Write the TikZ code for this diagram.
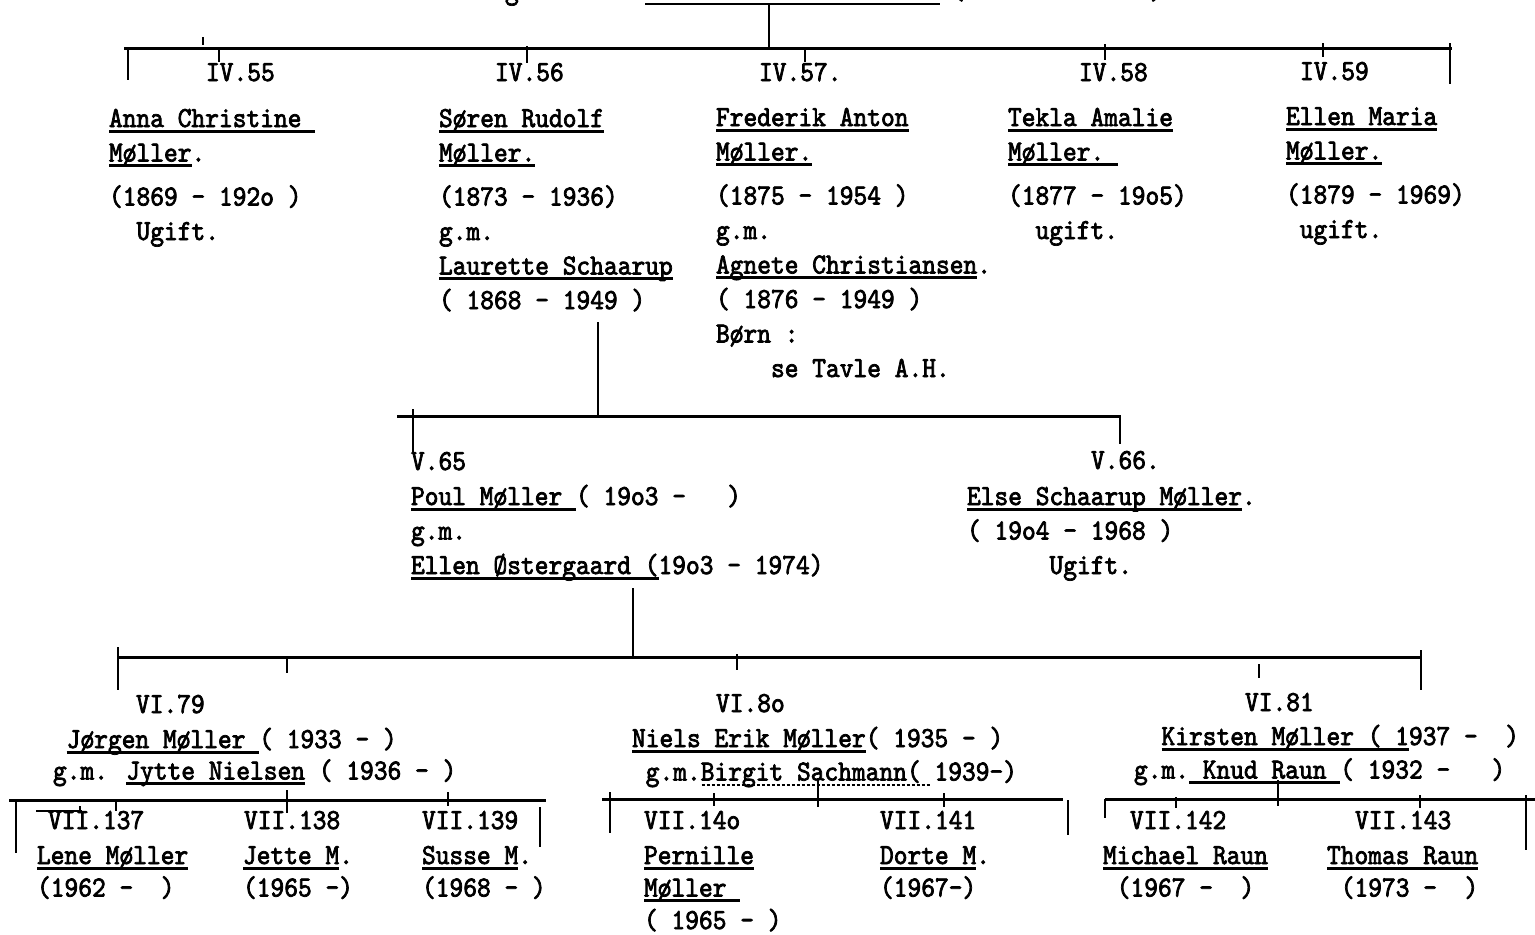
\documentclass[tikz,border=0pt]{standalone}
\usepackage{fontspec}
\newfontfamily\typ[Extension=.otf,FakeStretch=0.9,FakeBold=2.5]{lmmono10-regular}
\newcommand{\tyul}[1]{\setbox0\hbox{#1}\rlap{\rule[-2.8pt]{\wd0}{1.4pt}}\box0\relax}
\newcommand{\tydul}[1]{\setbox0\hbox{#1}\rlap{\raisebox{-2.6pt}{\hbox to \wd0{\leaders\hbox to 2.5pt{\hss\rule{1.6pt}{0.7pt}\hss}\hfill}}}\box0\relax}
\newcommand{\blok}[1]{\begin{tabular}[t]{@{}l@{}}#1\end{tabular}}

\begin{document}
\begin{tikzpicture}[x=0.5pt, y=-0.5pt,
    tekst/.style={anchor=base west, inner sep=0pt, outer sep=0pt,
      font={\typ\fontsize{14.55pt}{17.25pt}\selectfont}},
    bar/.style={line width=1.5pt},
    streg/.style={line width=1pt}]
    \useasboundingbox (0,0) rectangle (1535,934);
    \clip (0,0) rectangle (1535,934);
    % Forældre (afskaaret)
    \node[tekst] (gm3) at (505,-1) {g.m.};
    \node[tekst] (pa3) at (951,-1) {(};
    \node[tekst] (pb3) at (1150,-1) {)};
    \coordinate (u3a) at (645,4);
    \coordinate (u3b) at (940,4);
    \draw[line width=1.4pt] (u3a) -- (u3b);
    % Linjer IV
    \coordinate (top4) at (769,4);
    \coordinate (bar4a) at (124,48);
    \coordinate (bar4b) at (1452,48);
    \draw[streg] (top4) -- (top4 |- bar4a);
    \draw[bar] (bar4a) -- (bar4b);
    \draw[streg] (128,48) -- (128,80);
    \draw[streg] (1450,43) -- (1450,84);
    \foreach \x/\a/\b in {219/48/62, 527/46/63, 805/48/62, 1105/44/60, 1323/43/57}
        \draw[streg] (\x,\a) -- (\x,\b);
    \draw[line width=0.6pt] (203,37) -- (203,45);
    % Generation IV
    \node[tekst] (n55) at (206,81) {IV.55};
    \node[tekst] (n56) at (495,81) {IV.56};
    \node[tekst] (n57) at (759,81) {IV.57.};
    \node[tekst] (n58) at (1079,81) {IV.58};
    \node[tekst] (n59) at (1300,80) {IV.59};
    \node[tekst] (p55) at (109,127) {\blok{\tyul{Anna Christine }\\\tyul{Møller}.\\[4.75pt]
        (1869 - 192o )\\~~Ugift.}};
    \node[tekst] (p56) at (439,127) {\blok{\tyul{Søren Rudolf}\\\tyul{Møller.}\\[4.75pt]
        (1873 - 1936)\\g.m.\\\tyul{Laurette Schaarup}\\( 1868 - 1949 )}};
    \node[tekst] (p57) at (716,126) {\blok{\tyul{Frederik Anton}\\\tyul{Møller.}\\[4.75pt]
        (1875 - 1954 )\\g.m.\\\tyul{Agnete Christiansen}.\\( 1876 - 1949 )\\Børn :\\~~~~se Tavle A.H.}};
    \node[tekst] (p58) at (1008,126) {\blok{\tyul{Tekla Amalie}\\\tyul{Møller.~}\\[4.75pt]
        (1877 - 19o5)\\~~ugift.}};
    \node[tekst] (p59) at (1286,125) {\blok{\tyul{Ellen Maria}\\\tyul{Møller.}\\[4.75pt]
        (1879 - 1969)\\~ugift.}};
    % Linjer V
    \coordinate (ned5) at (598,322);
    \coordinate (bar5a) at (397,416);
    \coordinate (bar5b) at (1121,416);
    \draw[streg] (ned5) -- (ned5 |- bar5a);
    \draw[bar] (bar5a) -- (bar5b);
    \draw[streg] (413,409) -- (413,452);
    \draw[streg] (1120,416) -- (1120,444);
    % Generation V
    \node[tekst] (n65) at (411,470) {V.65};
    \node[tekst] (p65) at (411,505) {\blok{\tyul{Poul Møller }( 19o3 -~~~)\\g.m.\\
        \tyul{Ellen Østergaard (}19o3 - 1974)}};
    \node[tekst] (n66) at (1091,469) {V.66.};
    \node[tekst] (p66) at (967,505) {\blok{\tyul{Else Schaarup Møller}.\\( 19o4 - 1968 )\\~~~~~~Ugift.}};
    % Linjer VI
    \coordinate (ned6) at (633,588);
    \coordinate (bar6a) at (118,657);
    \coordinate (bar6b) at (1422,657);
    \draw[streg] (ned6) -- (ned6 |- bar6a);
    \draw[bar] (bar6a) -- (bar6b);
    \draw[streg] (118,647) -- (118,690);
    \draw[streg] (1421,650) -- (1421,690);
    \foreach \x/\a/\b in {287/657/673, 737/654/670, 1259/664/678}
        \draw[streg] (\x,\a) -- (\x,\b);
    % Generation VI
    \node[tekst] (n79) at (136,713) {VI.79};
    \node[tekst] (p79) at (53,748) {\blok{~\tyul{Jørgen Møller }( 1933 - )\\[-1.5pt]g.m. \tyul{Jytte Nielsen} ( 1936 - )}};
    \node[tekst] (n80) at (716,712) {VI.8o};
    \node[tekst] (p80) at (632,747) {\blok{\tyul{Niels Erik Møller}( 1935 - )\\[-0.5pt]~g.m.\tydul{Birgit Sachmann( }1939-)}};
    \node[tekst] (n81) at (1245,711) {VI.81};
    \node[tekst] (p81) at (1134,745) {\blok{~~\tyul{Kirsten Møller ( 1}937 -~~)\\[-0.5pt]g.m.\tyul{~Knud Raun~}( 1932 -~~~)}};
    % Linjer VII
    \draw[bar] (9,800) -- (546,800);
    \draw[streg] (16,800) -- (16,853);
    \draw[streg] (540,807) -- (540,847);
    \draw[bar] (602,799) -- (1063,799);
    \draw[streg] (610,792) -- (610,833);
    \draw[streg] (1068,800) -- (1068,835);
    \draw[bar] (1105,799) -- (1535,799);
    \draw[streg] (1105,799) -- (1105,818);
    \draw[streg] (1526,795) -- (1526,850);
    \foreach \x/\a/\b in {116/800/811, 287/790/813, 448/792/806, 714/793/806, 818/778/807,
        944/793/807, 1176/797/808, 1278/780/806, 1420/795/808}
        \draw[streg] (\x,\a) -- (\x,\b);
    \draw[line width=0.6pt] (36,811) -- (82,811) (80,806) -- (80,812);
    % Generation VII
    \node[tekst] (n137) at (48,829) {VII.137};
    \node[tekst] (p137) at (37,864) {\blok{\tyul{Lene Møller}\\[-1pt](1962 -~~)}};
    \node[tekst] (n138) at (244,829) {VII.138};
    \node[tekst] (p138) at (243,864) {\blok{\tyul{Jette M}.\\[-1pt](1965 -)}};
    \node[tekst] (n139) at (422,829) {VII.139};
    \node[tekst] (p139) at (422,864) {\blok{\tyul{Susse M}.\\[-1pt](1968 - )}};
    \node[tekst] (n140) at (644,829) {VII.14o};
    \node[tekst] (p140) at (644,864) {\blok{\tyul{Pernille}\\[-1pt]\tyul{Møller~}\\[-1pt]( 1965 - )}};
    \node[tekst] (n141) at (880,829) {VII.141};
    \node[tekst] (p141) at (880,864) {\blok{\tyul{Dorte M}.\\[-1pt](1967-)}};
    \node[tekst] (n142) at (1130,829) {VII.142};
    \node[tekst] (p142) at (1103,864) {\blok{\tyul{Michael Raun}\\[-1pt]~(1967 -~~)}};
    \node[tekst] (n143) at (1355,829) {VII.143};
    \node[tekst] (p143) at (1327,864) {\blok{\tyul{Thomas Raun}\\[-1pt]~(1973 -~~)}};
\end{tikzpicture}
\end{document}
